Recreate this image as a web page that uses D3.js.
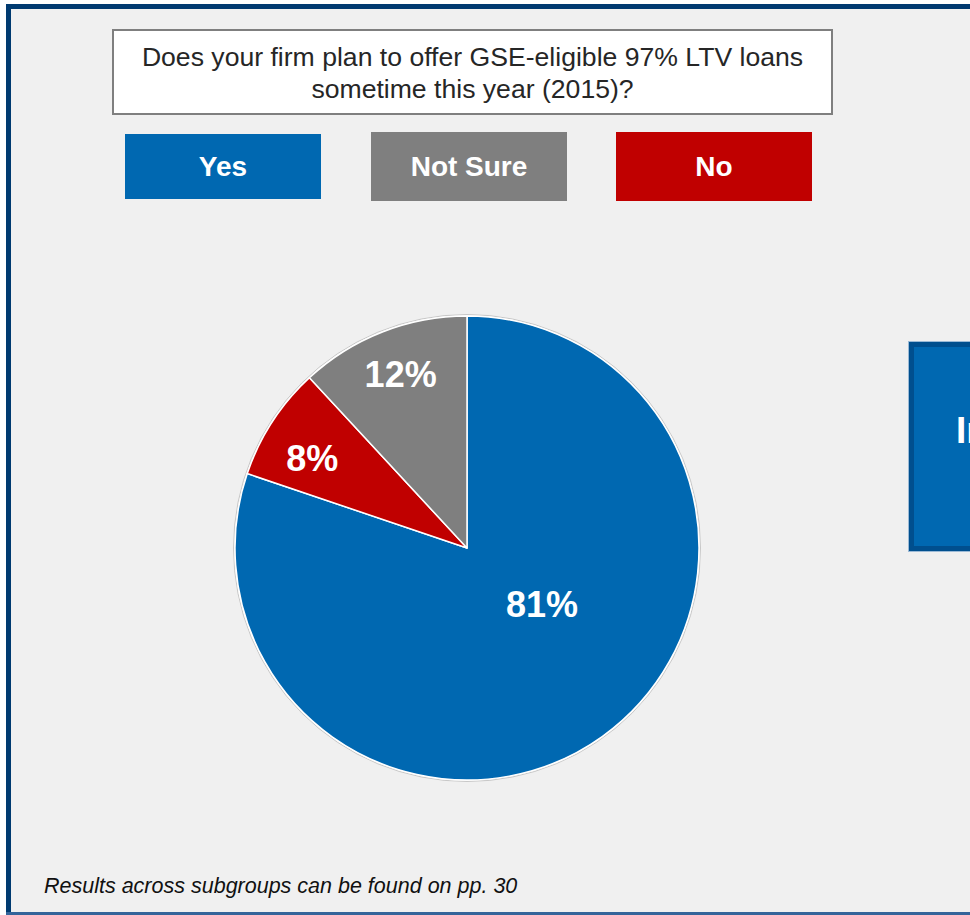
<!DOCTYPE html>
<html>
<head>
<meta charset="utf-8">
<script src="https://cdn.jsdelivr.net/npm/d3@7"></script>
<style>
  html, body { margin: 0; padding: 0; background: #ffffff; }
  svg { display: block; }
  text { font-family: "Liberation Sans", Arial, Helvetica, sans-serif; }
</style>
</head>
<body>
<div id="chart"></div>
<script>
// ---- Data ----
const categories = ["Yes", "No", "Not Sure"];
const values = [81, 8, 12];
const valueLabels = ["81%", "8%", "12%"];
const legendOrder = ["Yes", "Not Sure", "No"];
const titleLines = ["Does your firm plan to offer GSE-eligible 97% LTV loans", "sometime this year (2015)?"];
const footnote = "Results across subgroups can be found on pp. 30";
const sideText = "In";

// ---- Styles / layout ----
const W = 970, H = 915;
const colors = { "Yes": "#0068b1", "No": "#c00000", "Not Sure": "#7f7f7f" };
const navy = "#003a70";

const svg = d3.select("#chart").append("svg")
  .attr("width", W).attr("height", H);

// outer panel
svg.append("rect").attr("x", 6).attr("y", 4).attr("width", W).attr("height", H - 4).attr("fill", "#f0f0f0");
svg.append("rect").attr("x", 6).attr("y", 4).attr("width", W).attr("height", 5).attr("fill", navy);
svg.append("rect").attr("x", 6).attr("y", 4).attr("width", 5).attr("height", H - 4).attr("fill", navy);
svg.append("rect").attr("x", 6).attr("y", 912).attr("width", W).attr("height", 3).attr("fill", "#34649a");

// title box
svg.append("rect").attr("x", 113).attr("y", 30).attr("width", 719).attr("height", 84)
  .attr("fill", "#ffffff").attr("stroke", "#7f7f7f").attr("stroke-width", 2);
svg.append("text").attr("x", 472.5).attr("y", 66)
  .attr("text-anchor", "middle").attr("font-size", 26.6).attr("fill", "#262626")
  .selectAll("tspan").data(titleLines).join("tspan")
  .attr("x", 472.5).attr("dy", (d, i) => i === 0 ? 0 : 32).text(d => d);

// legend boxes
const legendBoxes = [
  { x: 125, y: 134, w: 196, h: 65 },
  { x: 371, y: 132, w: 196, h: 69 },
  { x: 616, y: 132, w: 196, h: 69 }
];
const lg = svg.append("g").selectAll("g").data(legendOrder).join("g");
lg.append("rect")
  .attr("x", (d, i) => legendBoxes[i].x).attr("y", (d, i) => legendBoxes[i].y)
  .attr("width", (d, i) => legendBoxes[i].w).attr("height", (d, i) => legendBoxes[i].h)
  .attr("fill", d => colors[d]);
lg.append("text")
  .attr("x", (d, i) => legendBoxes[i].x + legendBoxes[i].w / 2)
  .attr("y", (d, i) => legendBoxes[i].y + legendBoxes[i].h / 2)
  .attr("dy", "0.35em").attr("text-anchor", "middle")
  .attr("font-size", 28).attr("font-weight", "bold").attr("fill", "#ffffff")
  .text(d => d);

// pie
const cx = 467, cy = 548, R = 232;
const pieData = categories.map((c, i) => ({ cat: c, value: values[i], label: valueLabels[i] }));
const pie = d3.pie().value(d => d.value).sort(null);
const arcs = pie(pieData);
const arc = d3.arc().innerRadius(0).outerRadius(R);
const labelArc = d3.arc().innerRadius(182).outerRadius(182);
const labelOffsets = { "Yes": [-31, -92], "No": [-2, 9], "Not Sure": [0, -4] };

const g = svg.append("g").attr("transform", `translate(${cx},${cy})`);
g.append("circle").attr("r", R + 1.5).attr("fill", "none").attr("stroke", "#c8c8c8").attr("stroke-width", 1);
g.selectAll("path").data(arcs).join("path")
  .attr("d", arc)
  .attr("fill", d => colors[d.data.cat])
  .attr("stroke", "#ffffff").attr("stroke-width", 1.5).attr("stroke-linejoin", "round");
g.selectAll("text.lbl").data(arcs).join("text").attr("class", "lbl")
  .attr("x", d => labelArc.centroid(d)[0] + labelOffsets[d.data.cat][0])
  .attr("y", d => labelArc.centroid(d)[1] + labelOffsets[d.data.cat][1])
  .attr("dy", "0.35em").attr("text-anchor", "middle")
  .attr("font-size", 36).attr("font-weight", "bold").attr("fill", "#ffffff")
  .text(d => d.data.label);

// right side box (cut off at the page edge, as in the reference)
svg.append("rect").attr("x", 908.5).attr("y", 341.5).attr("width", 100).attr("height", 210)
  .attr("fill", "none").attr("stroke", "#9bbad6").attr("stroke-width", 1);
svg.append("rect").attr("x", 911.5).attr("y", 344.5).attr("width", 100).attr("height", 204)
  .attr("fill", "#0068b1").attr("stroke", "#004f8e").attr("stroke-width", 5);
svg.append("text").attr("x", 956).attr("y", 443)
  .attr("font-size", 37).attr("font-weight", "bold").attr("fill", "#ffffff")
  .text(sideText);

// footnote
svg.append("text").attr("x", 44).attr("y", 893)
  .attr("font-size", 21.5).attr("font-style", "italic").attr("fill", "#111111")
  .text(footnote);
</script>
</body>
</html>
